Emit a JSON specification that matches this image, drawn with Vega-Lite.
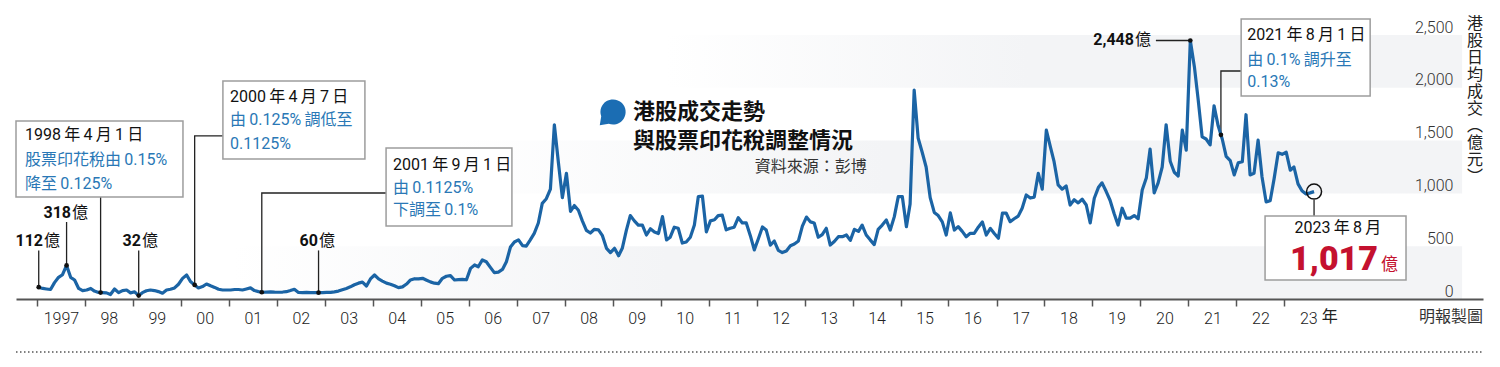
{
  "$schema": "https://vega.github.io/schema/vega-lite/v6.json",
  "width": 1467,
  "height": 264,
  "autosize": {"type": "none"},
  "padding": {"left": 16, "top": 35, "right": 17, "bottom": 68},
  "background": "white",
  "config": {"view": {"stroke": null}, "font": "Roboto, 'Noto Sans CJK TC', sans-serif"},
  "datasets": {
    "turnover": [
      {"t":"1997-01-15","v":112},{"t":"1997-02-15","v":100},{"t":"1997-03-15","v":95},{"t":"1997-04-15","v":90},{"t":"1997-05-15","v":155},{"t":"1997-06-15","v":205},{"t":"1997-07-15","v":230},{"t":"1997-08-15","v":318},{"t":"1997-09-15","v":205},{"t":"1997-10-15","v":180},{"t":"1997-11-15","v":100},{"t":"1997-12-15","v":80},
      {"t":"1998-01-15","v":85},{"t":"1998-02-15","v":100},{"t":"1998-03-15","v":75},{"t":"1998-04-15","v":62},{"t":"1998-05-15","v":60},{"t":"1998-06-15","v":58},{"t":"1998-07-15","v":42},{"t":"1998-08-15","v":95},{"t":"1998-09-15","v":60},{"t":"1998-10-15","v":80},{"t":"1998-11-15","v":85},{"t":"1998-12-15","v":58},
      {"t":"1999-01-15","v":68},{"t":"1999-02-15","v":32},{"t":"1999-03-15","v":60},{"t":"1999-04-15","v":78},{"t":"1999-05-15","v":85},{"t":"1999-06-15","v":80},{"t":"1999-07-15","v":70},{"t":"1999-08-15","v":55},{"t":"1999-09-15","v":85},{"t":"1999-10-15","v":92},{"t":"1999-11-15","v":105},{"t":"1999-12-15","v":140},
      {"t":"2000-01-15","v":195},{"t":"2000-02-15","v":228},{"t":"2000-03-15","v":165},{"t":"2000-04-15","v":133},{"t":"2000-05-15","v":105},{"t":"2000-06-15","v":118},{"t":"2000-07-15","v":142},{"t":"2000-08-15","v":125},{"t":"2000-09-15","v":110},{"t":"2000-10-15","v":92},{"t":"2000-11-15","v":85},{"t":"2000-12-15","v":85},
      {"t":"2001-01-15","v":85},{"t":"2001-02-15","v":90},{"t":"2001-03-15","v":90},{"t":"2001-04-15","v":85},{"t":"2001-05-15","v":95},{"t":"2001-06-15","v":105},{"t":"2001-07-15","v":80},{"t":"2001-08-15","v":70},{"t":"2001-09-15","v":63},{"t":"2001-10-15","v":66},{"t":"2001-11-15","v":68},{"t":"2001-12-15","v":65},
      {"t":"2002-01-15","v":64},{"t":"2002-02-15","v":66},{"t":"2002-03-15","v":69},{"t":"2002-04-15","v":80},{"t":"2002-05-15","v":92},{"t":"2002-06-15","v":62},{"t":"2002-07-15","v":60},{"t":"2002-08-15","v":63},{"t":"2002-09-15","v":60},{"t":"2002-10-15","v":60},{"t":"2002-11-15","v":60},{"t":"2002-12-15","v":60},
      {"t":"2003-01-15","v":62},{"t":"2003-02-15","v":63},{"t":"2003-03-15","v":68},{"t":"2003-04-15","v":75},{"t":"2003-05-15","v":88},{"t":"2003-06-15","v":100},{"t":"2003-07-15","v":115},{"t":"2003-08-15","v":135},{"t":"2003-09-15","v":150},{"t":"2003-10-15","v":160},{"t":"2003-11-15","v":123},{"t":"2003-12-15","v":190},
      {"t":"2004-01-15","v":227},{"t":"2004-02-15","v":190},{"t":"2004-03-15","v":170},{"t":"2004-04-15","v":150},{"t":"2004-05-15","v":140},{"t":"2004-06-15","v":125},{"t":"2004-07-15","v":108},{"t":"2004-08-15","v":115},{"t":"2004-09-15","v":142},{"t":"2004-10-15","v":180},{"t":"2004-11-15","v":192},{"t":"2004-12-15","v":190},
      {"t":"2005-01-15","v":196},{"t":"2005-02-15","v":178},{"t":"2005-03-15","v":162},{"t":"2005-04-15","v":150},{"t":"2005-05-15","v":145},{"t":"2005-06-15","v":196},{"t":"2005-07-15","v":215},{"t":"2005-08-15","v":222},{"t":"2005-09-15","v":180},{"t":"2005-10-15","v":183},{"t":"2005-11-15","v":186},{"t":"2005-12-15","v":182},
      {"t":"2006-01-15","v":290},{"t":"2006-02-15","v":322},{"t":"2006-03-15","v":305},{"t":"2006-04-15","v":370},{"t":"2006-05-15","v":353},{"t":"2006-06-15","v":300},{"t":"2006-07-15","v":250},{"t":"2006-08-15","v":255},{"t":"2006-09-15","v":280},{"t":"2006-10-15","v":353},{"t":"2006-11-15","v":492},{"t":"2006-12-15","v":540},
      {"t":"2007-01-15","v":560},{"t":"2007-02-15","v":505},{"t":"2007-03-15","v":500},{"t":"2007-04-15","v":560},{"t":"2007-05-15","v":622},{"t":"2007-06-15","v":720},{"t":"2007-07-15","v":906},{"t":"2007-08-15","v":950},{"t":"2007-09-15","v":1040},{"t":"2007-10-15","v":1650},{"t":"2007-11-15","v":1290},{"t":"2007-12-15","v":960},
      {"t":"2008-01-15","v":1190},{"t":"2008-02-15","v":830},{"t":"2008-03-15","v":885},{"t":"2008-04-15","v":840},{"t":"2008-05-15","v":740},{"t":"2008-06-15","v":650},{"t":"2008-07-15","v":625},{"t":"2008-08-15","v":660},{"t":"2008-09-15","v":655},{"t":"2008-10-15","v":600},{"t":"2008-11-15","v":480},{"t":"2008-12-15","v":440},
      {"t":"2009-01-15","v":480},{"t":"2009-02-15","v":410},{"t":"2009-03-15","v":480},{"t":"2009-04-15","v":650},{"t":"2009-05-15","v":790},{"t":"2009-06-15","v":740},{"t":"2009-07-15","v":700},{"t":"2009-08-15","v":700},{"t":"2009-09-15","v":606},{"t":"2009-10-15","v":665},{"t":"2009-11-15","v":635},{"t":"2009-12-15","v":620},
      {"t":"2010-01-15","v":780},{"t":"2010-02-15","v":560},{"t":"2010-03-15","v":585},{"t":"2010-04-15","v":680},{"t":"2010-05-15","v":670},{"t":"2010-06-15","v":530},{"t":"2010-07-15","v":540},{"t":"2010-08-15","v":585},{"t":"2010-09-15","v":700},{"t":"2010-10-15","v":970},{"t":"2010-11-15","v":975},{"t":"2010-12-15","v":635},
      {"t":"2011-01-15","v":740},{"t":"2011-02-15","v":750},{"t":"2011-03-15","v":790},{"t":"2011-04-15","v":795},{"t":"2011-05-15","v":655},{"t":"2011-06-15","v":670},{"t":"2011-07-15","v":680},{"t":"2011-08-15","v":770},{"t":"2011-09-15","v":720},{"t":"2011-10-15","v":720},{"t":"2011-11-15","v":600},{"t":"2011-12-15","v":465},
      {"t":"2012-01-15","v":570},{"t":"2012-02-15","v":682},{"t":"2012-03-15","v":653},{"t":"2012-04-15","v":510},{"t":"2012-05-15","v":549},{"t":"2012-06-15","v":460},{"t":"2012-07-15","v":440},{"t":"2012-08-15","v":455},{"t":"2012-09-15","v":505},{"t":"2012-10-15","v":521},{"t":"2012-11-15","v":550},{"t":"2012-12-15","v":690},
      {"t":"2013-01-15","v":776},{"t":"2013-02-15","v":730},{"t":"2013-03-15","v":720},{"t":"2013-04-15","v":585},{"t":"2013-05-15","v":610},{"t":"2013-06-15","v":670},{"t":"2013-07-15","v":511},{"t":"2013-08-15","v":545},{"t":"2013-09-15","v":590},{"t":"2013-10-15","v":590},{"t":"2013-11-15","v":606},{"t":"2013-12-15","v":555},
      {"t":"2014-01-15","v":660},{"t":"2014-02-15","v":640},{"t":"2014-03-15","v":700},{"t":"2014-04-15","v":606},{"t":"2014-05-15","v":560},{"t":"2014-06-15","v":515},{"t":"2014-07-15","v":660},{"t":"2014-08-15","v":700},{"t":"2014-09-15","v":748},{"t":"2014-10-15","v":653},{"t":"2014-11-15","v":780},{"t":"2014-12-15","v":969},
      {"t":"2015-01-15","v":969},{"t":"2015-02-15","v":685},{"t":"2015-03-15","v":900},{"t":"2015-04-15","v":1979},{"t":"2015-05-15","v":1525},{"t":"2015-06-15","v":1390},{"t":"2015-07-15","v":1250},{"t":"2015-08-15","v":960},{"t":"2015-09-15","v":820},{"t":"2015-10-15","v":790},{"t":"2015-11-15","v":730},{"t":"2015-12-15","v":606},
      {"t":"2016-01-15","v":815},{"t":"2016-02-15","v":653},{"t":"2016-03-15","v":685},{"t":"2016-04-15","v":640},{"t":"2016-05-15","v":590},{"t":"2016-06-15","v":622},{"t":"2016-07-15","v":622},{"t":"2016-08-15","v":680},{"t":"2016-09-15","v":730},{"t":"2016-10-15","v":606},{"t":"2016-11-15","v":669},{"t":"2016-12-15","v":620},
      {"t":"2017-01-15","v":575},{"t":"2017-02-15","v":814},{"t":"2017-03-15","v":814},{"t":"2017-04-15","v":732},{"t":"2017-05-15","v":760},{"t":"2017-06-15","v":785},{"t":"2017-07-15","v":860},{"t":"2017-08-15","v":985},{"t":"2017-09-15","v":956},{"t":"2017-10-15","v":965},{"t":"2017-11-15","v":1190},{"t":"2017-12-15","v":1040},
      {"t":"2018-01-15","v":1600},{"t":"2018-02-15","v":1440},{"t":"2018-03-15","v":1300},{"t":"2018-04-15","v":1080},{"t":"2018-05-15","v":1040},{"t":"2018-06-15","v":1070},{"t":"2018-07-15","v":890},{"t":"2018-08-15","v":940},{"t":"2018-09-15","v":910},{"t":"2018-10-15","v":945},{"t":"2018-11-15","v":890},{"t":"2018-12-15","v":720},
      {"t":"2019-01-15","v":954},{"t":"2019-02-15","v":1055},{"t":"2019-03-15","v":1100},{"t":"2019-04-15","v":1020},{"t":"2019-05-15","v":935},{"t":"2019-06-15","v":810},{"t":"2019-07-15","v":700},{"t":"2019-08-15","v":860},{"t":"2019-09-15","v":765},{"t":"2019-10-15","v":765},{"t":"2019-11-15","v":790},{"t":"2019-12-15","v":760},
      {"t":"2020-01-15","v":1032},{"t":"2020-02-15","v":1145},{"t":"2020-03-15","v":1420},{"t":"2020-04-15","v":1005},{"t":"2020-05-15","v":1100},{"t":"2020-06-15","v":1250},{"t":"2020-07-15","v":1650},{"t":"2020-08-15","v":1305},{"t":"2020-09-15","v":1200},{"t":"2020-10-15","v":1165},{"t":"2020-11-15","v":1600},{"t":"2020-12-15","v":1410},
      {"t":"2021-01-15","v":2448},{"t":"2021-02-15","v":2200},{"t":"2021-03-15","v":1897},{"t":"2021-04-15","v":1535},{"t":"2021-05-15","v":1515},{"t":"2021-06-15","v":1460},{"t":"2021-07-15","v":1830},{"t":"2021-08-15","v":1640},{"t":"2021-09-15","v":1515},{"t":"2021-10-15","v":1350},{"t":"2021-11-15","v":1310},{"t":"2021-12-15","v":1175},
      {"t":"2022-01-15","v":1290},{"t":"2022-02-15","v":1300},{"t":"2022-03-15","v":1745},{"t":"2022-04-15","v":1175},{"t":"2022-05-15","v":1190},{"t":"2022-06-15","v":1505},{"t":"2022-07-15","v":1155},{"t":"2022-08-15","v":920},{"t":"2022-09-15","v":930},{"t":"2022-10-15","v":1140},{"t":"2022-11-15","v":1385},{"t":"2022-12-15","v":1370},
      {"t":"2023-01-15","v":1390},{"t":"2023-02-15","v":1220},{"t":"2023-03-15","v":1250},{"t":"2023-04-15","v":1090},{"t":"2023-05-15","v":1025},{"t":"2023-06-15","v":995},{"t":"2023-07-15","v":1005},{"t":"2023-08-15","v":1017}
    ],
    "leaders": [
      {"id":"a","k":1,"t":"1998-05-01","v":966},{"id":"a","k":2,"t":"1998-05-01","v":61},
      {"id":"b","k":1,"t":"2000-11-17","v":1544},{"id":"b","k":2,"t":"2000-04-16","v":1544},{"id":"b","k":3,"t":"2000-04-16","v":133},
      {"id":"c","k":1,"t":"2004-04-12","v":1004},{"id":"c","k":2,"t":"2001-09-09","v":1004},{"id":"c","k":3,"t":"2001-09-09","v":64},
      {"id":"d","k":1,"t":"2022-02-06","v":2159},{"id":"d","k":2,"t":"2021-09-05","v":2159},{"id":"d","k":3,"t":"2021-09-05","v":1555},
      {"id":"e","k":1,"t":"2023-08-15","v":940},{"id":"e","k":2,"t":"2023-08-15","v":786},
      {"id":"f","k":1,"t":"1997-01-15","v":460},{"id":"f","k":2,"t":"1997-01-15","v":112},
      {"id":"g","k":1,"t":"1997-08-15","v":729},{"id":"g","k":2,"t":"1997-08-15","v":318},
      {"id":"h","k":1,"t":"1999-02-15","v":460},{"id":"h","k":2,"t":"1999-02-15","v":32},
      {"id":"i","k":1,"t":"2002-11-15","v":460},{"id":"i","k":2,"t":"2002-11-15","v":60},
      {"id":"j","k":1,"t":"2020-04-28","v":2448},{"id":"j","k":2,"t":"2021-01-15","v":2448}
    ],
    "dots": [
      {"t":"1998-05-01","v":61},{"t":"2000-04-16","v":133},{"t":"2001-09-09","v":64},{"t":"2021-09-05","v":1555},
      {"t":"1997-01-15","v":112},{"t":"1997-08-15","v":318},{"t":"1999-02-15","v":32},{"t":"2002-11-15","v":60},{"t":"2021-01-15","v":2448}
    ],
    "boxes": [
      {"t":"1996-07-26","t2":"2000-01-18","v":966,"v2":1686},
      {"t":"2000-11-17","t2":"2003-11-03","v":1326,"v2":2064},
      {"t":"2004-04-12","t2":"2006-11-26","v":691,"v2":1430},
      {"t":"2022-02-06","t2":"2024-10-15","v":1922,"v2":2652},
      {"t":"2022-08-07","t2":"2025-07-15","v":180,"v2":786}
    ],
    "valueLabels": [
      {"t":"1997-02-17","v":549,"text":"112"},
      {"t":"1997-09-18","v":814,"text":"318"},
      {"t":"1999-03-04","v":549,"text":"32"},
      {"t":"2002-11-10","v":549,"text":"60"},
      {"t":"2019-11-13","v":2448,"text":"2,448"}
    ]
  },
  "encoding": {
    "x": {
      "field": "t", "type": "temporal",
      "scale": {"type": "utc", "nice": false, "domain": [{"year":1996,"month":7,"date":26,"utc":true},{"year":2027,"month":2,"date":21,"utc":true}]},
      "axis": {
        "title": null, "orient": "bottom", "grid": false, "zindex": 1,
        "values": [{"year":1997,"month":1,"date":1,"utc":true},{"year":1998,"month":1,"date":1,"utc":true},{"year":1999,"month":1,"date":1,"utc":true},{"year":2000,"month":1,"date":1,"utc":true},{"year":2001,"month":1,"date":1,"utc":true},{"year":2002,"month":1,"date":1,"utc":true},{"year":2003,"month":1,"date":1,"utc":true},{"year":2004,"month":1,"date":1,"utc":true},{"year":2005,"month":1,"date":1,"utc":true},{"year":2006,"month":1,"date":1,"utc":true},{"year":2007,"month":1,"date":1,"utc":true},{"year":2008,"month":1,"date":1,"utc":true},{"year":2009,"month":1,"date":1,"utc":true},{"year":2010,"month":1,"date":1,"utc":true},{"year":2011,"month":1,"date":1,"utc":true},{"year":2012,"month":1,"date":1,"utc":true},{"year":2013,"month":1,"date":1,"utc":true},{"year":2014,"month":1,"date":1,"utc":true},{"year":2015,"month":1,"date":1,"utc":true},{"year":2016,"month":1,"date":1,"utc":true},{"year":2017,"month":1,"date":1,"utc":true},{"year":2018,"month":1,"date":1,"utc":true},{"year":2019,"month":1,"date":1,"utc":true},{"year":2020,"month":1,"date":1,"utc":true},{"year":2021,"month":1,"date":1,"utc":true},{"year":2022,"month":1,"date":1,"utc":true},{"year":2023,"month":1,"date":1,"utc":true}],
        "labelExpr": "utcyear(datum.value) == 1997 ? '1997' : utcFormat(datum.value, '%y')",
        "domainColor": "#555555", "domainWidth": 2,
        "tickColor": "#555555", "tickWidth": 1.5, "tickSize": 7,
        "labelOffset": 24, "labelPadding": 4, "labelFontSize": 16, "labelFontWeight": 300, "labelColor": "#222222",
        "labelOverlap": false, "labelFlush": false, "labelBound": false
      }
    },
    "y": {
      "field": "v", "type": "quantitative",
      "scale": {"domain": [0, 2500], "nice": false, "zero": true},
      "axis": {
        "title": null, "orient": "right", "grid": false, "domain": false, "ticks": false, "zindex": 1,
        "values": [0, 500, 1000, 1500, 2000, 2500],
        "labelExpr": "format(datum.value, ',')",
        "labelAlign": "right", "labelBaseline": "bottom", "labelPadding": -30,
        "labelFontSize": 16, "labelFontWeight": 300, "labelColor": "#333333",
        "labelOverlap": false, "labelFlush": false, "labelBound": false
      }
    }
  },
  "layer": [
    {
      "data": {"values": [{"t":"1996-07-26","t2":"2026-09-15","v":0,"v2":500}]},
      "mark": {"type": "rect", "color": {"gradient": "linear", "x1": 0, "y1": 0, "x2": 1, "y2": 0, "stops": [{"offset": 0, "color": "#ffffff"}, {"offset": 0.15, "color": "#ffffff"}, {"offset": 0.45, "color": "#f3f4f6"}, {"offset": 1, "color": "#f3f4f6"}]}},
      "encoding": {"x2": {"field": "t2"}, "y2": {"field": "v2"}}
    },
    {
      "data": {"values": [{"t":"1996-07-26","t2":"2026-09-15","v":1000,"v2":1500}]},
      "mark": {"type": "rect", "color": {"gradient": "linear", "x1": 0, "y1": 0, "x2": 1, "y2": 0, "stops": [{"offset": 0, "color": "#ffffff"}, {"offset": 0.3, "color": "#ffffff"}, {"offset": 0.6, "color": "#f3f4f6"}, {"offset": 1, "color": "#f3f4f6"}]}},
      "encoding": {"x2": {"field": "t2"}, "y2": {"field": "v2"}}
    },
    {
      "data": {"values": [{"t":"1996-07-26","t2":"2026-09-15","v":2000,"v2":2500}]},
      "mark": {"type": "rect", "color": {"gradient": "linear", "x1": 0, "y1": 0, "x2": 1, "y2": 0, "stops": [{"offset": 0, "color": "#ffffff"}, {"offset": 0.45, "color": "#ffffff"}, {"offset": 0.7, "color": "#f3f4f6"}, {"offset": 1, "color": "#f3f4f6"}]}},
      "encoding": {"x2": {"field": "t2"}, "y2": {"field": "v2"}}
    },
    {
      "data": {"values": [{"t":"1996-07-26","t2":"2027-02-21","v":-502}]},
      "mark": {"type": "rule", "color": "#555555", "strokeWidth": 1.5, "strokeDash": [1.5, 2.5]},
      "encoding": {"x2": {"field": "t2"}}
    },
    {
      "data": {"name": "leaders"},
      "mark": {"type": "line", "color": "#222222", "strokeWidth": 1.3},
      "encoding": {"detail": {"field": "id"}, "order": {"field": "k", "type": "quantitative"}}
    },
    {
      "data": {"name": "boxes"},
      "mark": {"type": "rect", "fill": "#ffffff", "stroke": "#9d9d9d", "strokeWidth": 1.5},
      "encoding": {"x2": {"field": "t2"}, "y2": {"field": "v2"}}
    },
    {
      "data": {"name": "turnover"},
      "mark": {"type": "line", "color": "#1b64a5", "strokeWidth": 3.2, "strokeJoin": "round"}
    },
    {
      "data": {"name": "dots"},
      "mark": {"type": "point", "filled": true, "color": "#111111", "size": 22, "opacity": 1}
    },
    {
      "data": {"values": [{"t":"2023-08-15","v":1017}]},
      "mark": {"type": "point", "filled": false, "color": "#111111", "strokeWidth": 1.5, "size": 225, "opacity": 1}
    },
    {
      "data": {"values": [{"t":"2009-01-04","v":1771}]},
      "mark": {"type": "point", "shape": "M -0.95 0.95 L -0.846 0.308 A 0.9 0.9 0 1 1 -0.308 0.846 Z", "filled": true, "color": "#1b6db3", "size": 784, "opacity": 1}
    },
    {
      "data": {"values": [
        {"t":"1996-10-03","v":1553,"text":"1998\u2009年\u20094\u2009月\u20091\u2009日"},
        {"t":"2001-01-10","v":1913,"text":"2000\u2009年\u20094\u2009月\u20097\u2009日"},
        {"t":"2004-06-04","v":1269,"text":"2001\u2009年\u20099\u2009月\u20091\u2009日"},
        {"t":"2022-03-24","v":2500,"text":"2021\u2009年\u20098\u2009月\u20091\u2009日"}
      ]},
      "mark": {"type": "text", "align": "left", "baseline": "middle", "fontSize": 16, "color": "#111111"},
      "encoding": {"text": {"field": "text"}}
    },
    {
      "data": {"values": [
        {"t":"1996-10-03","v":1316,"text":"股票印花稅由\u20090.15%"},
        {"t":"1996-10-03","v":1089,"text":"降至\u20090.125%"},
        {"t":"2001-01-10","v":1695,"text":"由\u20090.125%\u2009調低至"},
        {"t":"2001-01-10","v":1468,"text":"0.1125%"},
        {"t":"2004-06-04","v":1051,"text":"由\u20090.1125%"},
        {"t":"2004-06-04","v":843,"text":"下調至\u20090.1%"},
        {"t":"2022-03-24","v":2263,"text":"由\u20090.1%\u2009調升至"},
        {"t":"2022-03-24","v":2055,"text":"0.13%"}
      ]},
      "mark": {"type": "text", "align": "left", "baseline": "middle", "fontSize": 16, "color": "#2a78b6"},
      "encoding": {"text": {"field": "text"}}
    },
    {
      "data": {"values": [{"t":"2024-02-13","v":672,"text":"2023\u2009年\u20098\u2009月"}]},
      "mark": {"type": "text", "align": "center", "baseline": "middle", "fontSize": 16, "color": "#111111"},
      "encoding": {"text": {"field": "text"}}
    },
    {
      "data": {"values": [{"t":"2024-12-14","v":275,"text":"1,017"}]},
      "mark": {"type": "text", "align": "right", "baseline": "alphabetic", "fontSize": 34, "fontWeight": 900, "color": "#c4112f"},
      "encoding": {"text": {"field": "text"}}
    },
    {
      "data": {"values": [{"t":"2025-01-06","v":275,"text":"億"}]},
      "mark": {"type": "text", "align": "left", "baseline": "alphabetic", "fontSize": 17, "color": "#c4112f"},
      "encoding": {"text": {"field": "text"}}
    },
    {
      "data": {"name": "valueLabels"},
      "mark": {"type": "text", "align": "right", "baseline": "middle", "fontSize": 16, "fontWeight": "bold", "color": "#111111"},
      "encoding": {"text": {"field": "text"}}
    },
    {
      "data": {"name": "valueLabels"},
      "mark": {"type": "text", "align": "left", "baseline": "middle", "fontSize": 16, "dx": 1, "color": "#111111", "text": "億"}
    },
    {
      "data": {"values": [
        {"t":"2009-06-05","v":1771,"text":"港股成交走勢"},
        {"t":"2009-06-05","v":1497,"text":"與股票印花稅調整情況"}
      ]},
      "mark": {"type": "text", "align": "left", "baseline": "middle", "fontSize": 22, "fontWeight": "bold", "font": "'Noto Sans CJK TC', sans-serif", "color": "#111111"},
      "encoding": {"text": {"field": "text"}}
    },
    {
      "data": {"values": [{"t":"2014-04-20","v":1250,"text":"資料來源：彭博"}]},
      "mark": {"type": "text", "align": "right", "baseline": "middle", "fontSize": 16, "color": "#333333"},
      "encoding": {"text": {"field": "text"}}
    },
    {
      "data": {"values": [{"t":"2026-12-22","v":2680,"text":"港\n股\n日\n均\n成\n交\n︵\n億\n元\n︶"}]},
      "mark": {"type": "text", "align": "center", "baseline": "top", "fontSize": 16, "lineHeight": 17, "lineBreak": "\n", "color": "#222222"},
      "encoding": {"text": {"field": "text"}}
    },
    {
      "data": {"values": [{"t":"2027-02-21","v":-170,"text":"明報製圖"}]},
      "mark": {"type": "text", "align": "right", "baseline": "middle", "fontSize": 16, "color": "#333333"},
      "encoding": {"text": {"field": "text"}}
    },
    {
      "data": {"values": [{"t":"2023-12-13","v":-170,"text":"年"}]},
      "mark": {"type": "text", "align": "center", "baseline": "middle", "fontSize": 16, "color": "#222222"},
      "encoding": {"text": {"field": "text"}}
    }
  ]
}
